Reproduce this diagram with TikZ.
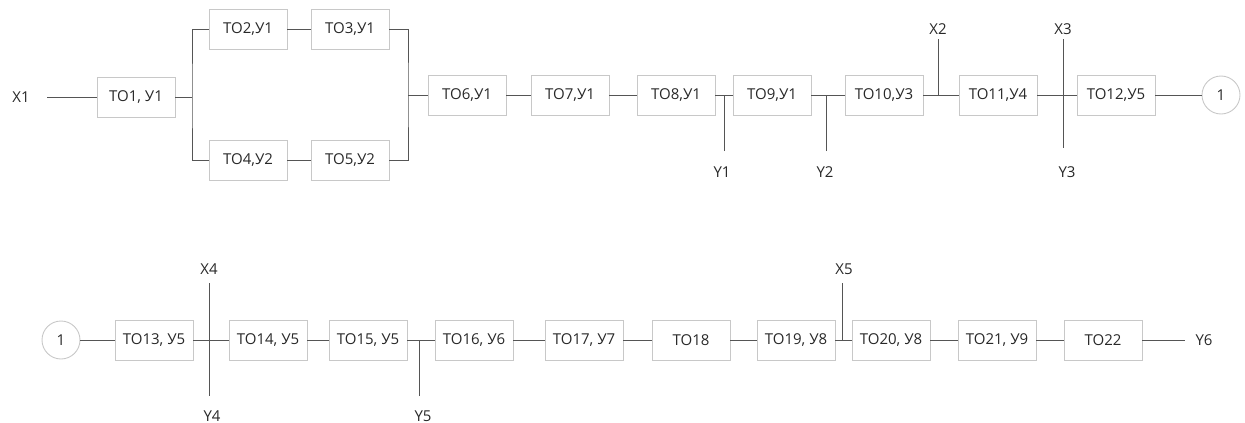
\documentclass[tikz,border=0pt]{standalone}
\usepackage{fontspec}
\setmainfont{Open Sans}
\usepackage{xcolor}
\usepackage{tikz}

\definecolor{boxgray}{RGB}{200,200,200}
\definecolor{linegray}{RGB}{85,85,85}
\definecolor{txtgray}{RGB}{40,40,40}

\begin{document}
\begin{tikzpicture}[x=1pt, y=-1pt, font=\fontsize{15}{18}\selectfont,
    blk/.style={draw=boxgray, line width=0.9pt, minimum width=78pt, minimum height=40pt, inner sep=0pt, text=txtgray},
    ring/.style={circle, draw=boxgray, line width=0.9pt, minimum size=38pt, inner sep=0pt, text=txtgray},
    lbl/.style={inner sep=1pt, text=txtgray},
    lnk/.style={draw=linegray, line width=1pt}]
    \useasboundingbox (0,0) rectangle (1245,423);
    % First row
    \node[lbl] (x1) at (21,97) {X1};
    \node[blk] (to1) at (136,97) {ТО1, У1};
    \node[blk] (to2) at (248,29) {ТО2,У1};
    \node[blk] (to3) at (350,29) {ТО3,У1};
    \node[blk] (to4) at (248,160) {ТО4,У2};
    \node[blk] (to5) at (350,160) {ТО5,У2};
    \node[blk] (to6) at (467,95) {ТО6,У1};
    \node[blk] (to7) at (570,95) {ТО7,У1};
    \node[blk] (to8) at (676,95) {ТО8,У1};
    \node[blk] (to9) at (772,95) {ТО9,У1};
    \node[blk] (to10) at (884,95) {ТО10,У3};
    \node[blk] (to11) at (998,95) {ТО11,У4};
    \node[blk] (to12) at (1116,95) {ТО12,У5};
    \node[ring] (c1) at (1221,95) {1};
    \node[lbl] (y1) at (722,172) {Y1};
    \node[lbl] (y2) at (825,172) {Y2};
    \node[lbl] (x2) at (938,29) {X2};
    \node[lbl] (x3) at (1063,29) {X3};
    \node[lbl] (y3) at (1067,172) {Y3};
    % Second row
    \node[ring] (c2) at (61,340) {1};
    \node[blk] (to13) at (154,340) {ТО13, У5};
    \node[blk] (to14) at (268,340) {ТО14, У5};
    \node[blk] (to15) at (368,340) {ТО15, У5};
    \node[blk] (to16) at (474,340) {ТО16, У6};
    \node[blk] (to17) at (584,340) {ТО17, У7};
    \node[blk] (to18) at (691,340) {ТО18};
    \node[blk] (to19) at (796,340) {ТО19, У8};
    \node[blk] (to20) at (891,340) {ТО20, У8};
    \node[blk] (to21) at (997,340) {ТО21, У9};
    \node[blk] (to22) at (1103,340) {ТО22};
    \node[lbl] (x4) at (209,269) {X4};
    \node[lbl] (y4) at (212,416) {Y4};
    \node[lbl] (y5) at (423,416) {Y5};
    \node[lbl] (x5) at (844,269) {X5};
    \node[lbl] (y6) at (1204,340) {Y6};
    % Free ends
    \coordinate (x1e) at (47,97);
    \coordinate (sp) at (192,97);
    \coordinate (mg) at (408,95);
    \coordinate (y1t) at (724,151);
    \coordinate (y2t) at (826,151);
    \coordinate (x2t) at (938,39);
    \coordinate (x3t) at (1063,39);
    \coordinate (y3t) at (1063,148);
    \coordinate (x4t) at (209,283);
    \coordinate (y4t) at (209,396);
    \coordinate (y5t) at (419,396);
    \coordinate (x5t) at (842,283);
    \coordinate (y6e) at (1185,340);
    % Links
    \draw[lnk] (x1e) -- (to1.west);
    \draw[lnk] (to1.east) -- (sp);
    \draw[lnk] (to2.west) -| (sp) |- (to4.west);
    \draw[lnk] (to2) -- (to3);
    \draw[lnk] (to4) -- (to5);
    \draw[lnk] (to3.east) -| (mg) |- (to5.east);
    \draw[lnk] (mg) -- (to6.west);
    \foreach \a/\b in {to6/to7, to7/to8, to8/to9, to9/to10, to10/to11, to11/to12, to12/c1,
                       c2/to13, to13/to14, to14/to15, to15/to16, to16/to17, to17/to18,
                       to18/to19, to19/to20, to20/to21, to21/to22}
        \draw[lnk] (\a) -- (\b);
    \draw[lnk] (to22.east) -- (y6e);
    % Taps
    \draw[lnk] (y1t) -- (y1t |- to8.east);
    \draw[lnk] (y2t) -- (y2t |- to9.east);
    \draw[lnk] (x2t) -- (x2t |- to10.east);
    \draw[lnk] (x3t) -- (y3t);
    \draw[lnk] (x4t) -- (y4t);
    \draw[lnk] (y5t) -- (y5t |- to15.east);
    \draw[lnk] (x5t) -- (x5t |- to19.east);
\end{tikzpicture}
\end{document}
